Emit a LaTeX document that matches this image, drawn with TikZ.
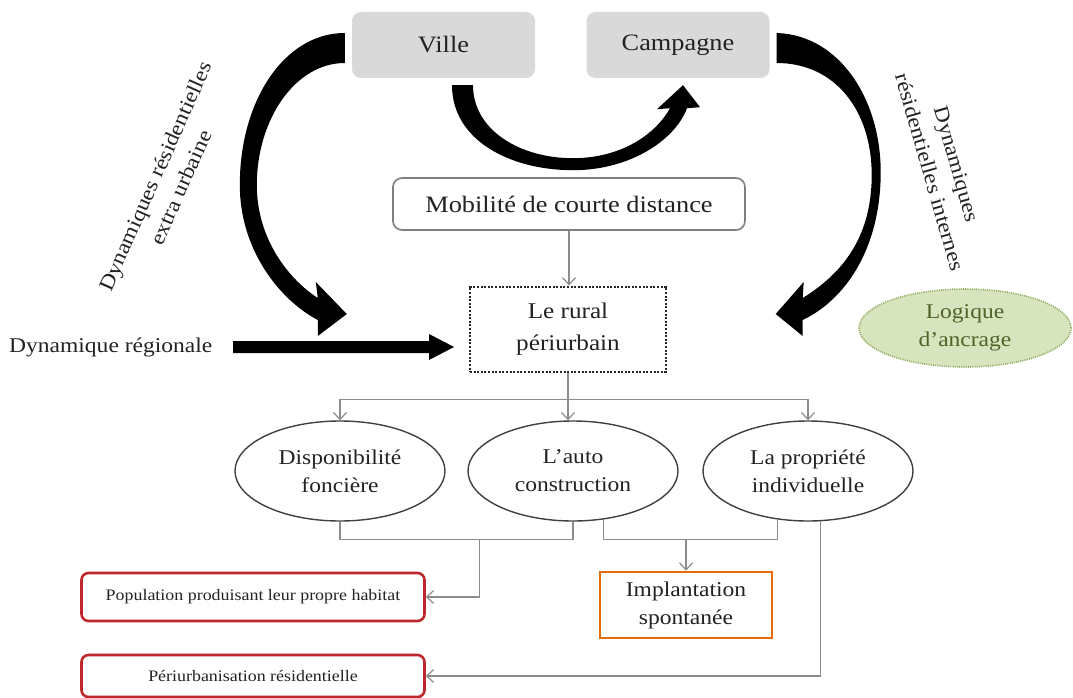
\documentclass[tikz,border=0pt]{standalone}
\usepackage{fontspec}
\setmainfont{Liberation Serif}[FakeStretch=1.12]
\usetikzlibrary{arrows.meta,shapes.geometric,calc}

\definecolor{boxgray}{HTML}{D9D9D9}
\definecolor{linegray}{HTML}{7F7F7F}
\definecolor{dotgray}{HTML}{262626}
\definecolor{ellgray}{HTML}{404040}
\definecolor{flowgray}{HTML}{8C8C8C}
\definecolor{resred}{HTML}{C0272D}
\definecolor{resorange}{HTML}{E46C0A}
\definecolor{leafgreen}{HTML}{D7E4BD}
\definecolor{leafdot}{HTML}{8DA85A}
\definecolor{leaftext}{HTML}{4F6228}
\definecolor{textcol}{HTML}{222222}

\tikzset{
  every node/.style={text=textcol},
  bigtext/.style={font=\fontsize{23.5}{28}\selectfont},
  place/.style={rectangle, rounded corners=9pt, fill=boxgray, minimum width=183pt, minimum height=66pt, inner sep=0pt, bigtext},
  linkbox/.style={rectangle, rounded corners=9pt, draw=linegray, line width=1.6pt, fill=white, minimum width=352pt, minimum height=52pt, bigtext},
  hubbox/.style={rectangle, draw=dotgray, line width=2pt, dash pattern=on 2pt off 1.6pt, minimum width=196pt, minimum height=85pt, align=center, font=\fontsize{22.5}{32}\selectfont},
  factor/.style={ellipse, draw=ellgray, line width=1.4pt, minimum width=210pt, minimum height=100pt, inner sep=0pt, align=center},
  result/.style={rectangle, rounded corners=7pt, draw=resred, line width=2.6pt, minimum width=343pt, font=\fontsize{16}{20}\selectfont},
  outcome/.style={rectangle, draw=resorange, line width=2.6pt, minimum width=172pt, minimum height=66pt, align=center},
  anchorage/.style={ellipse, fill=leafgreen, draw=leafdot, line width=1.6pt, dash pattern=on 1pt off 1.2pt, minimum width=212pt, minimum height=78pt, inner sep=0pt, text=leaftext, align=center},
  flowline/.style={draw=flowgray, line width=1.2pt},
  flow/.style={flowline, -{Straight Barb[length=7pt,width=13pt]}},
  bigarrow/.style={fill=black, draw=none},
}

\begin{document}
\begin{tikzpicture}[x=1pt, y=-1pt, font=\fontsize{21}{28}\selectfont]
\useasboundingbox (0,0) rectangle (1073,698);

% places and hub
\node[place] (ville) at (443.5,45) {Ville};
\node[place] (campagne) at (678,45) {Campagne};
\node[linkbox] (mob) at (569,204) {Mobilité de courte distance};
\node[hubbox] (rural) at (568,329) {Le rural\\périurbain};
\node[anchor=west, inner sep=0pt] (reg) at (9,347) {Dynamique régionale};
\node[anchorage] (ancrage) at (965,328) {Logique\\d’ancrage};

% factors
\node[factor] (fonc) at (340,471) {Disponibilité\\foncière};
\node[factor] (auto) at (573,471) {L’auto\\construction};
\node[factor] (prop) at (808,471) {La propriété\\individuelle};

% outcomes
\node[result, minimum height=48pt] (pop) at (253,597) {Population produisant leur propre habitat};
\node[result, minimum height=42pt] (peri) at (253,676) {Périurbanisation résidentielle};
\node[outcome] (impl) at (686,605) {Implantation\\spontanée};

% rotated labels of the residential flows
\node[rotate=66, align=center] (extra) at (168,182) {Dynamiques résidentielles\\extra urbaine};
\node[rotate=-74, align=center] (internes) at (943,168) {Dynamiques\\résidentielles internes};

% extra-urban flow: from Ville round to the left
\begin{scope}[shift={(ville.west)}]
\fill[bigarrow] (-7,-12) .. controls (-67,-12) and (-112,55) .. (-112,140)
  .. controls (-112,205) and (-72,255) .. (-34,275)
  -- (-34,291) -- (-5,269) -- (-36,237) -- (-34,253)
  .. controls (-62,235) and (-95,195) .. (-95,140)
  .. controls (-95,75) and (-57,18) .. (-7,18) -- cycle;
\end{scope}

% internal flow: from Campagne round to the right
\begin{scope}[shift={(campagne.east)}]
\fill[bigarrow] (7,-12) .. controls (70,-10) and (112,55) .. (111,130)
  .. controls (110,205) and (75,255) .. (33,275)
  -- (33,291) -- (6,269) -- (34,237) -- (33,253)
  .. controls (70,230) and (102,195) .. (102,130)
  .. controls (102,65) and (65,18) .. (7,18) -- cycle;
\end{scope}

% Ville to Campagne
\begin{scope}[shift={(ville.south)}]
\fill[bigarrow] (8.5,7) .. controls (8.5,62) and (66.5,92) .. (129.5,92)
  .. controls (186.5,92) and (231.5,62) .. (243.5,30)
  -- (256.5,29) -- (239.5,7) -- (213.5,31) -- (226.5,30)
  .. controls (211.5,57) and (176.5,80) .. (129.5,80)
  .. controls (76.5,80) and (29.5,52) .. (29.5,7) -- cycle;
\end{scope}

% regional flow into the hub
\begin{scope}[shift={(rural.west |- reg.east)}]
\fill[bigarrow] (-236,-6) -- (-40,-6) -- (-40,-13) -- (-15,0) -- (-40,13) -- (-40,6) -- (-236,6) -- cycle;
\end{scope}

% thin connectors
\draw[flow] (mob.south) -- (mob.south |- rural.north);
\coordinate (split) at ($(rural.south)+(0,27)$);
\draw[flowline] (rural.south) -- (split);
\draw[flow] (split) -- (split |- auto.north);
\draw[flow] (split) -| (fonc.north);
\draw[flow] (split) -| (prop.north);

\coordinate (j1) at ($(fonc.south)!0.6!(auto.south)+(0,18)$);
\draw[flowline] (fonc.south) |- (j1) -| (auto.south);
\draw[flow] (j1) |- (pop.east);

\coordinate (j2) at (impl.north |- j1);
\draw[flowline] (auto.-58) |- (j2) -| (prop.-122);
\draw[flow] (j2) -- (impl.north);
\draw[flow] (prop.-76) |- (peri.east);
\end{tikzpicture}
\end{document}
